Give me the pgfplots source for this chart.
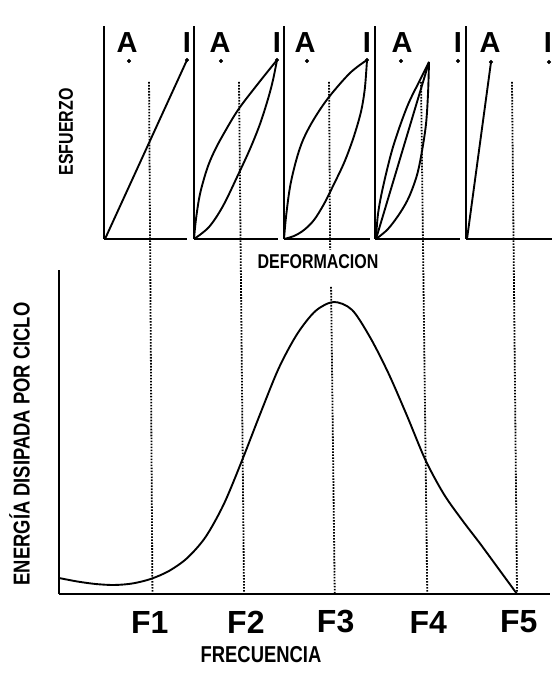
\documentclass[border=0pt]{standalone}
\usepackage{fontspec}
\setmainfont{Liberation Sans}
\newfontfamily\narrow[FakeStretch=0.8]{Liberation Sans}
\usepackage{pgfplots}
\pgfplotsset{compat=1.18}
\pgfplotsset{
  panel/.style={scale only axis, anchor=south west, axis lines*=left,
    axis line style={-, line width=2.1pt}, xtick=\empty, ytick=\empty,
    height=213bp, ymin=0, ymax=213, xmin=0, clip=false},
  curve/.style={line width=1.9pt, black, smooth, tension=0.55, mark=none},
  dotl/.style={line width=1.8pt, black, dash pattern=on 1.6pt off 1.4pt, mark=none},
  dots/.style={only marks, mark=*, mark size=1.8pt, black},
}
\newcommand{\lab}{\fontsize{29bp}{29bp}\selectfont\bfseries}
\newcommand{\nlab}{\narrow\fontsize{20bp}{20bp}\selectfont\bfseries}
\newcommand{\nlabb}{\narrow\fontsize{23bp}{23bp}\selectfont\bfseries}
\newcommand{\nlabs}{\narrow\fontsize{20bp}{20bp}\selectfont\bfseries}
\begin{document}
\begin{tikzpicture}[x=1bp,y=1bp]
\useasboundingbox (0,0) rectangle (553,688);
\coordinate (P1) at (104bp,449bp);
\coordinate (P2) at (194bp,449bp);
\coordinate (P3) at (284bp,449bp);
\coordinate (P4) at (375bp,449bp);
\coordinate (P5) at (466bp,449bp);
\coordinate (PM) at (59bp,94bp);
% ---------- panel 1
\begin{axis}[panel, at={(P1)}, width=83bp, xmax=83]
\addplot[curve] coordinates {(1,0) (83,179)};
\addplot[dots] coordinates {(25,178) (83,179)};
\node[font=\lab] at (axis cs:23,196) {A};
\node[font=\lab] at (axis cs:83,196) {I};
\node[font=\nlabs, rotate=90] at (axis cs:-38,107) {ESFUERZO};
\end{axis}
% ---------- panel 2
\begin{axis}[panel, at={(P2)}, width=84bp, xmax=84]
\addplot[curve] coordinates {(0,0) (2,20) (6,45) (13,70) (20,87) (29,104) (44,129) (63,154) (83,179)};
\addplot[curve] coordinates {(0,0) (15,12) (29,33) (44,64) (56,90) (66,115) (74,140) (79,159) (83,179)};
\addplot[dots] coordinates {(27,178) (83,179)};
\node[font=\lab] at (axis cs:26,196) {A};
\node[font=\lab] at (axis cs:83,196) {I};
\end{axis}
% ---------- panel 3
\begin{axis}[panel, at={(P3)}, width=86bp, xmax=86]
\addplot[curve] coordinates {(0,0) (2,22) (6,52) (12,78) (19,99) (30,120) (45,142) (66,166) (83,179)};
\addplot[curve] coordinates {(0,0) (10,3) (20,9) (30,19) (40,35) (50,55) (60,76) (68,97) (74,116) (78,132) (81,152) (83,179)};
\addplot[dots] coordinates {(23,178) (83,179)};
\node[font=\lab] at (axis cs:21,196) {A};
\node[font=\lab] at (axis cs:83,196) {I};
\node[font=\nlab] at (axis cs:34,-23) {DEFORMACION};
\end{axis}
% ---------- panel 4
\begin{axis}[panel, at={(P4)}, width=85bp, xmax=85]
\addplot[curve] coordinates {(1,0) (3,25) (8,52) (18,92) (32,132) (45,159) (54,177)};
\addplot[curve] coordinates {(1,0) (54,177)};
\addplot[curve] coordinates {(1,0) (13,10) (25,26) (34,42) (42,64) (47,88) (51,115) (53,145) (54,177)};
\addplot[dots] coordinates {(26,178) (83,178)};
\node[font=\lab] at (axis cs:27,196) {A};
\node[font=\lab] at (axis cs:83,196) {I};
\end{axis}
% ---------- panel 5
\begin{axis}[panel, at={(P5)}, width=86bp, xmax=86]
\addplot[curve] coordinates {(1,0) (25,177)};
\addplot[dots] coordinates {(25,177) (83,177)};
\node[font=\lab] at (axis cs:24,196) {A};
\node[font=\lab] at (axis cs:82,196) {I};
\end{axis}
% ---------- main axis
\begin{axis}[scale only axis, anchor=south west, at={(PM)}, width=491bp, height=324bp,
  xmin=0, xmax=5.36, ymin=0, ymax=324, clip=false,
  axis lines*=left, axis line style={-, line width=2.1pt},
  ytick=\empty, xtick={0.99,2.04,3.02,4.03,5.02}, xticklabels={F1,F2,F3,F4,F5},
  major tick length=0pt,
  xticklabel style={font=\fontsize{32bp}{32bp}\selectfont\bfseries, anchor=center, yshift=-28bp}]
\addplot[dotl] coordinates {(0.983,512) (1.02,0)};
\addplot[dotl] coordinates {(1.965,512) (2.02,0)};
\addplot[dotl] coordinates {(2.948,512) (2.96,344)};
\addplot[dotl] coordinates {(2.97,307) (3.01,0)};
\addplot[dotl] coordinates {(3.952,512) (4.02,0)};
\addplot[dotl] coordinates {(4.945,512) (5.0,0)};
\addplot[curve, tension=0.5] coordinates {(0,16) (0.2,12.5) (0.4,10) (0.6,9) (0.8,10.5) (1.0,15) (1.2,23) (1.4,36) (1.6,57) (1.8,90) (2.0,134) (2.2,181) (2.4,226) (2.6,260) (2.8,283) (3.0,292) (3.2,284) (3.4,256) (3.6,220) (3.8,178) (4.0,134) (4.2,100) (4.4,74) (4.6,50) (4.8,25) (5.0,0)};
\node[font=\nlabb, rotate=90] at (axis cs:-0.43,150) {ENERGÍA DISIPADA POR CICLO};
\node[font=\nlabb] at (axis cs:2.205,-61) {FRECUENCIA};
\end{axis}
\end{tikzpicture}
\end{document}
